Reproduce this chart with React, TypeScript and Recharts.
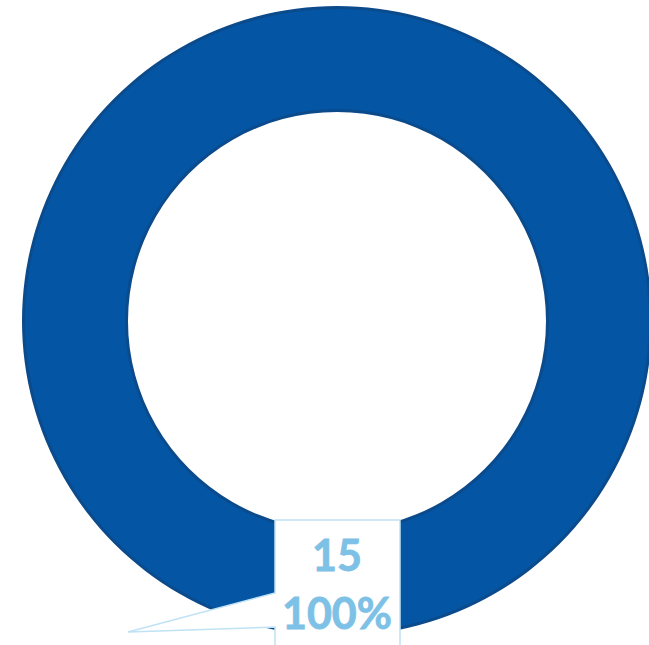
import { PieChart, Pie, Cell } from "recharts";

const categories = ["Total"];
const counts = [15];
const percents = ["100%"];

const data = categories.map((name, i) => ({ name, value: counts[i], pct: percents[i] }));

const EDGE = "#0B4B8C";
const FILL = "#0455A4";
const LABEL_BLUE = "#7DC1E6";
const BORDER = "#BFE2F4";

const CalloutLabel = (props: any) => {
  const { cx, cy, outerRadius, index } = props;
  const d = data[index];
  const bottom = cy + outerRadius;
  const left = cx - 62;
  const right = cx + 63;
  const top = bottom - 116;
  const tipX = cx - 209;
  const tipY = bottom - 4;
  const path = [
    `M${left},${top}`,
    `L${right},${top}`,
    `L${right},${bottom + 20}`,
    `L${left},${bottom + 20}`,
    `L${left},${bottom - 9}`,
    `L${tipX},${tipY}`,
    `L${left},${bottom - 43}`,
    "Z",
  ].join(" ");
  const font = {
    fill: LABEL_BLUE,
    fontFamily: "Lato, 'Open Sans', sans-serif",
    fontWeight: 700,
    fontSize: 43,
    stroke: LABEL_BLUE,
    strokeWidth: 0.8,
  };
  return (
    <g>
      <path d={path} fill="#ffffff" stroke={BORDER} strokeWidth={1.5} />
      <text x={cx} y={top + 51} textAnchor="middle" {...font}>
        {d.value}
      </text>
      <text x={cx} y={top + 109} textAnchor="middle" {...font}>
        {d.pct}
      </text>
    </g>
  );
};

export default function App() {
  return (
    <div style={{ position: "absolute", left: 0, top: 0, background: "#fff" }}>
      <PieChart width={649} height={645} margin={{ top: 0, right: 0, bottom: 0, left: 0 }}>
        <Pie
          data={data}
          dataKey="value"
          cx={337}
          cy={321}
          outerRadius={315}
          innerRadius={209}
          startAngle={90}
          endAngle={-270}
          stroke="none"
          isAnimationActive={false}
        >
          {data.map((_, i) => (
            <Cell key={i} fill={EDGE} />
          ))}
        </Pie>
        <Pie
          data={data}
          dataKey="value"
          cx={337}
          cy={321}
          outerRadius={312}
          innerRadius={212}
          startAngle={90}
          endAngle={-270}
          stroke="none"
          labelLine={false}
          label={(p: any) => <CalloutLabel {...p} cx={337} cy={321} outerRadius={315} />}
          isAnimationActive={false}
        >
          {data.map((_, i) => (
            <Cell key={i} fill={FILL} />
          ))}
        </Pie>
      </PieChart>
    </div>
  );
}
